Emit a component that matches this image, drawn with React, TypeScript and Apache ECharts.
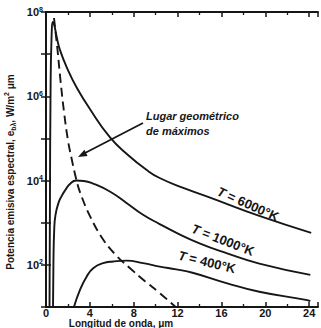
import React, { useEffect, useRef } from 'react';
import * as echarts from 'echarts';

// Wavelength (μm) and spectral emissive power (W/m² μm)
const wavelength6000 = [0.32, 0.36, 0.41, 0.5, 0.64, 0.77, 0.97, 1.27, 2.0, 2.82, 4.0, 5.82, 7.45, 9.18, 10.36, 12.64, 14.9, 19.45, 24.18];
const power6000 = [10, 3.5e3, 8.1e5, 2.2e7, 5.8e7, 4.7e7, 2.6e7, 1.26e7, 4.2e6, 1.58e6, 5.0e5, 1.07e5, 4.1e4, 1.78e4, 1.15e4, 6.5e3, 4.0e3, 1.45e3, 575];

const wavelength1000 = [0.64, 0.68, 0.75, 0.86, 1.14, 1.45, 1.73, 2.18, 2.77, 3.45, 4.3, 5.82, 7.34, 8.85, 10.36, 11.9, 14.0, 16.45, 19.45, 24.1];
const power1000 = [10, 130, 680, 1.5e3, 2.95e3, 4.4e3, 5.8e3, 8.3e3, 1.0e4, 9.8e3, 8.5e3, 5.5e3, 2.95e3, 1.55e3, 930, 575, 325, 190, 107, 58];

const wavelength400 = [2.55, 3.09, 3.7, 4.3, 5.21, 6.12, 7.34, 8.85, 10.36, 11.88, 13.36, 16.45, 19.45, 23.7, 24.1];
const power400 = [10, 25, 52, 83, 110, 120, 126, 110, 91, 78, 65, 37, 23, 14.8, 13.8];

const wavelengthLocus = [0.73, 1.05, 1.32, 1.64, 2.0, 2.36, 2.73, 3.09, 4.0, 5.18, 6.45, 7.64, 9.0, 10.36, 11.82];
const powerLocus = [7.2e7, 1.26e7, 2.4e6, 4.3e5, 9.1e4, 3.1e4, 1.15e4, 5.4e3, 1.45e3, 410, 162, 84, 41.5, 21.5, 10];

const xTickLabels = [0, 4, 8, 12, 16, 20, 24];
const yLabelExponents = [2, 4, 6, 8];

const curveLabels = ['6000', '1000', '400'];

const font = "'Liberation Sans', Arial, Helvetica, sans-serif";
const ink = '#161616';

function pairs(xs: number[], ys: number[]) {
  return xs.map((x, i) => [x, ys[i]]);
}

export default function App() {
  const ref = useRef<HTMLDivElement>(null);

  useEffect(() => {
    if (!ref.current) return;
    const chart = echarts.init(ref.current, null, { renderer: 'svg' });

    const xAxisBase = {
      type: 'value',
      min: 0,
      max: 24.8,
      interval: 4,
      axisLine: { show: true, lineStyle: { color: ink, width: 2 } },
      axisTick: { show: true, inside: true, length: 5, lineStyle: { color: ink, width: 1.5 } },
      minorTick: { show: true, splitNumber: 2, length: 3, lineStyle: { color: ink, width: 1.3 } },
      splitLine: { show: false },
      minorSplitLine: { show: false },
    };
    const yAxisBase = {
      type: 'log',
      logBase: 10,
      min: 10,
      max: 1e8,
      interval: 1,
      axisLine: { show: true, lineStyle: { color: ink, width: 2 } },
      axisTick: { show: true, inside: true, length: 5, lineStyle: { color: ink, width: 1.5 } },
      splitLine: { show: false },
    };

    const lineSeries = (name: string, data: number[][], smooth: number, dashed = false) => ({
      name,
      type: 'line',
      data,
      smooth,
      showSymbol: false,
      symbol: 'none',
      clip: true,
      lineStyle: { color: ink, width: 1.9, type: dashed ? [9, 5] : 'solid' },
      z: 3,
    });

    const tLabel = (value: string, x: number, y: number, rot: number) => ({
      type: 'text',
      x,
      y,
      rotation: rot,
      style: {
        text: `{t|T} {n|= ${value}°K}`,
        align: 'center',
        verticalAlign: 'middle',
        rich: {
          t: { fontFamily: font, fontSize: 13, fontWeight: 'bold', fontStyle: 'italic', fill: ink },
          n: { fontFamily: font, fontSize: 13, fontWeight: 'bold', fill: ink },
        },
      },
      z: 10,
    });

    chart.setOption({
      animation: false,
      backgroundColor: '#ffffff',
      grid: { left: 46, right: 2, top: 12, bottom: 21, containLabel: false },
      xAxis: [
        {
          ...xAxisBase,
          position: 'bottom',
          axisLabel: {
            show: true,
            margin: 1,
            color: ink,
            fontFamily: font,
            fontWeight: 'bold',
            fontSize: 11,
            lineHeight: 10,
            formatter: (v: number) => (xTickLabels.includes(v) ? String(v) : ''),
          },
        },
        {
          ...xAxisBase,
          position: 'top',
          axisLabel: { show: false },
        },
      ],
      yAxis: [
        {
          ...yAxisBase,
          position: 'left',
          axisLabel: {
            show: true,
            margin: 3,
            color: ink,
            formatter: (v: number) => {
              const e = Math.round(Math.log10(v));
              return yLabelExponents.includes(e) ? `{b|10}{s|${e}}` : '';
            },
            rich: {
              b: { fontFamily: font, fontSize: 11, fontWeight: 'bold', color: ink, lineHeight: 13 },
              s: { fontFamily: font, fontSize: 7, fontWeight: 'bold', color: ink, lineHeight: 13, verticalAlign: 'top' },
            },
          },
        },
        {
          ...yAxisBase,
          position: 'right',
          axisLabel: { show: false },
        },
      ],
      series: [
        lineSeries('T = 6000°K', pairs(wavelength6000, power6000), 0.5),
        lineSeries('T = 1000°K', pairs(wavelength1000, power1000), 0.5),
        lineSeries('T = 400°K', pairs(wavelength400, power400), 0.5),
        lineSeries('Lugar geométrico de máximos', pairs(wavelengthLocus, powerLocus), 0.4, true),
      ],
      graphic: [
        {
          type: 'text',
          x: 10,
          y: 172,
          rotation: Math.PI / 2,
          style: {
            text: '{n|Potencia emisiva espectral, e}{sub|bλ}{n|, W/m}{sup|2}{n| μm}',
            align: 'center',
            verticalAlign: 'middle',
            rich: {
              n: { fontFamily: font, fontSize: 10, fontWeight: 'bold', fill: ink, lineHeight: 14 },
              sub: { fontFamily: font, fontSize: 7, fontWeight: 'bold', fill: ink, lineHeight: 14, verticalAlign: 'bottom' },
              sup: { fontFamily: font, fontSize: 7, fontWeight: 'bold', fill: ink, lineHeight: 14, verticalAlign: 'top' },
            },
          },
        },
        {
          type: 'text',
          x: 121,
          y: 323,
          style: {
            text: 'Longitud de onda, μm',
            align: 'center',
            verticalAlign: 'middle',
            fontFamily: font,
            fontSize: 10,
            lineHeight: 10,
            fontWeight: 'bold',
            fill: ink,
          },
        },
        tLabel(curveLabels[0], 248, 204, -0.42),
        tLabel(curveLabels[1], 223, 240, -0.37),
        tLabel(curveLabels[2], 207, 262, -0.24),
        {
          type: 'text',
          x: 146,
          y: 116,
          style: {
            text: 'Lugar geométrico',
            align: 'left',
            verticalAlign: 'middle',
            fontFamily: font,
            fontSize: 11,
            fontWeight: 'bold',
            fontStyle: 'italic',
            fill: ink,
          },
        },
        {
          type: 'text',
          x: 146,
          y: 131,
          style: {
            text: 'de máximos',
            align: 'left',
            verticalAlign: 'middle',
            fontFamily: font,
            fontSize: 11,
            fontWeight: 'bold',
            fontStyle: 'italic',
            fill: ink,
          },
        },
        {
          type: 'line',
          shape: { x1: 143, y1: 123, x2: 85, y2: 153 },
          style: { stroke: ink, lineWidth: 1.8 },
        },
        {
          type: 'polygon',
          shape: { points: [[78, 157], [87.6, 156], [84.4, 149.8]] },
          style: { fill: ink },
        },
      ],
    });

    return () => chart.dispose();
  }, []);

  return <div ref={ref} style={{ position: 'fixed', left: 0, top: 0, width: 321, height: 328 }} />;
}
